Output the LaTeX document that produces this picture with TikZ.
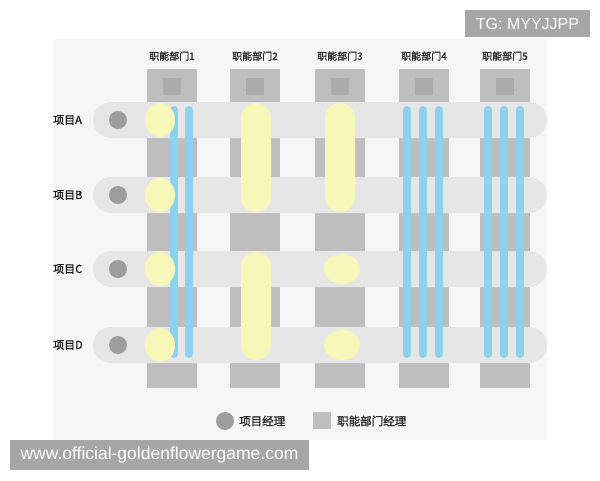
\documentclass[tikz,border=0pt]{standalone}
\usepackage{fontspec}
\setmainfont{Liberation Sans}
\newfontfamily\cjk[FakeBold=1.2]{Noto Sans CJK SC}
\usepackage{tikz}
\usetikzlibrary{calc}

\definecolor{panelgray}{HTML}{F6F6F6}
\definecolor{colgray}{HTML}{BEBEBE}
\definecolor{boxgray}{HTML}{ABABAB}
\definecolor{bandgray}{HTML}{E6E6E6}
\definecolor{pmgray}{HTML}{9E9E9E}
\definecolor{softyellow}{HTML}{F8F7BA}
\definecolor{skyblue}{HTML}{8ED0F0}
\definecolor{markgray}{HTML}{A6A6A6}

\begin{document}
\begin{tikzpicture}[x=1pt,y=-1pt,
	dept/.style={text=black!85,font=\cjk\fontsize{10}{12}\selectfont,inner sep=0pt},
	proj/.style={text=black!90,font=\cjk\fontsize{11}{13}\selectfont,inner sep=0pt,anchor=west},
	legend/.style={text=black!85,font=\cjk\fontsize{11.5}{13}\selectfont,inner sep=0pt,anchor=west},
	task/.style={line width=8pt,line cap=round,skyblue},
	share/.style={fill=softyellow},
	tagbox/.style={fill=markgray,text=white,inner sep=0pt}]
	\useasboundingbox (0,0) rectangle (600,480);
	\fill[white] (0,0) rectangle (600,480);
	\fill[panelgray] (53,39) rectangle (547,440);
	
	% departments
	\foreach \x [count=\i] in {172,255,340,424,505} {
		\fill[colgray] (\x-25,69) rectangle (\x+25,388);
		\fill[boxgray] (\x-9,78) rectangle (\x+9,95);
		\node[dept] (dept\i) at (\x,56) {职能部门\i};
	}
	
	% projects
	\foreach \y/\n in {120/A,195/B,269/C,345/D} {
		\fill[bandgray,rounded corners=18] (93,\y-18) rectangle (547,\y+18);
		\fill[pmgray] (118,\y) circle (9);
		\node[proj] (proj\n) at (53,\y) {项目\n};
	}
	
	% staff lent out
	\foreach \x in {174,189,407,423,439,488,504,520}
		\draw[task] (\x,110) -- (\x,354);
	
	% shared staff
	\foreach \y in {120,195,269,345}
		\fill[share] (160,\y) ellipse (15 and 17);
	\fill[share,rounded corners=15] (241,103) rectangle (271,212);
	\fill[share,rounded corners=15] (241,252) rectangle (271,360);
	\fill[share,rounded corners=15] (325,103) rectangle (355,212);
	\fill[share] (342,269) ellipse (18 and 15);
	\fill[share] (342,345) ellipse (18 and 15);
	
	% legend
	\fill[pmgray] (225,421) circle (9);
	\node[legend] (pm) at (239,421) {项目经理};
	\fill[colgray] (313,412) rectangle (331,429);
	\node[legend] (dm) at (337,421) {职能部门经理};
	
	% watermarks
	\node[tagbox,minimum width=125,minimum height=27,font=\fontsize{16}{18}\selectfont] (tg) at (527.5,23.5) {TG: MYYJJPP};
	\node[tagbox,minimum width=299,minimum height=30,font=\fontsize{17.5}{20}\selectfont] (site) at (159.5,455) {www.official-goldenflowergame.com};
\end{tikzpicture}
\end{document}
